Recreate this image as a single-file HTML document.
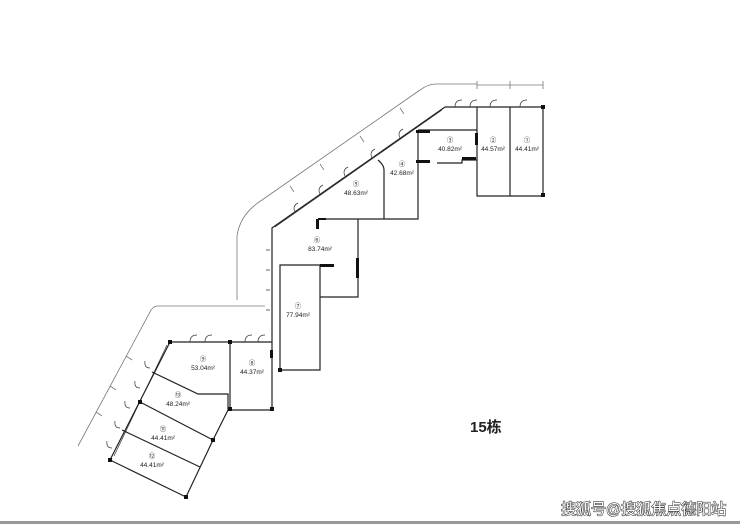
<!DOCTYPE html>
<html><head><meta charset="utf-8"><style>
html,body{margin:0;padding:0;background:#fff;}
svg{display:block;}
text{font-family:"Liberation Sans","Noto Sans CJK SC",sans-serif;}
</style></head><body>
<svg width="740" height="524" viewBox="0 0 740 524" xmlns="http://www.w3.org/2000/svg">
<rect width="740" height="524" fill="#fff"/>
<g stroke="#777" stroke-width="0.8" fill="none">
<path d="M477 84 H436 Q428 84 420 90 L262 200 Q240 214 237 236 V300"/>
<path d="M265 306 H157 Q152 307 150 312 L78 446"/>
<path d="M477 85 H543 M477 81 V89 M510 81 V89 M543 81 V89"/>
<path d="M400 108 l4 6 M360 136 l4 6 M320 164 l4 6 M290 186 l4 6"/>
<path d="M126 356 l6 4 M110 386 l6 4 M96 412 l6 4"/>
</g>
<g stroke="#222" stroke-width="1.2" fill="none">
<path d="M445 107 H543 V196 H477 V107 M510 107 V196"/>
<path d="M445 107 L272 228 V340"/>
<path d="M442 110 L275 227" stroke-width="0.6"/>
<path d="M418 130 H477 M418 130 V219 H318 M437 163 H462 V160 H477"/>
<path d="M384 219 V170 Q384 165 378 160"/>
<path d="M358 219 V297 H320 M320 265 V370 H280 V265 H333"/>
<path d="M170 342 H272 M230 342 V410 H272 V340"/>
<path d="M170 342 L110 460 L186 497 L213 440 L228 410 V394 H198 L152 372"/>
<path d="M167 345 L114 456" stroke-width="0.6"/>
<path d="M140 402 L213 440 M122 430 L200 467"/>
</g>
<g stroke="#333" stroke-width="0.7" fill="none">
<path d="M455 107 q0 -7 7 -7 M470 107 q0 -7 7 -7 M490 107 q0 -7 7 -7 M520 107 q0 -7 7 -7"/>
<path d="M400 138 q-3 -6 3 -9 M372 158 q-3 -6 3 -9 M345 176 q-3 -6 3 -9 M320 194 q-3 -6 3 -9 M295 212 q-3 -6 3 -9"/>
<path d="M190 342 q0 -7 7 -7 M205 342 q0 -7 7 -7 M245 342 q0 -7 7 -7 M258 342 q0 -7 7 -7"/>
<path d="M150 368 q-6 0 -5 -7 M140 388 q-6 0 -5 -7 M130 408 q-6 0 -5 -7 M120 428 q-6 0 -5 -7 M112 448 q-6 0 -5 -7"/>
<path d="M270 250 h-4 M270 270 h-4 M270 290 h-4 M270 310 h-4"/>
</g>
<g fill="#111">
<rect x="416" y="130" width="14" height="3"/><rect x="416" y="160" width="14" height="3"/>
<rect x="541" y="105" width="4" height="4"/><rect x="541" y="193" width="4" height="4"/>
<rect x="475" y="133" width="3" height="12"/><rect x="462" y="157" width="14" height="3"/>
<rect x="316" y="219" width="3" height="10"/><rect x="318" y="218" width="8" height="2"/>
<rect x="320" y="264" width="14" height="3"/><rect x="356" y="258" width="3" height="20"/>
<rect x="168" y="340" width="4" height="4"/><rect x="228" y="340" width="4" height="4"/>
<rect x="228" y="407" width="4" height="4"/><rect x="270" y="407" width="4" height="4"/>
<rect x="138" y="400" width="4" height="4"/><rect x="211" y="438" width="4" height="4"/>
<rect x="184" y="495" width="4" height="4"/><rect x="108" y="458" width="4" height="4"/>
<rect x="270" y="350" width="3" height="8"/><rect x="278" y="368" width="4" height="4"/>
</g>
<g font-size="6.5" fill="#222" text-anchor="middle">
<text x="527" y="142">①</text><text x="527" y="151">44.41m²</text>
<text x="493" y="142">②</text><text x="493" y="151">44.57m²</text>
<text x="450" y="142">③</text><text x="450" y="151">40.82m²</text>
<text x="402" y="166">④</text><text x="402" y="175">42.68m²</text>
<text x="356" y="186">⑤</text><text x="356" y="195">48.63m²</text>
<text x="317" y="242">⑥</text><text x="320" y="251">83.74m²</text>
<text x="298" y="308">⑦</text><text x="298" y="317">77.94m²</text>
<text x="252" y="365">⑧</text><text x="252" y="374">44.37m²</text>
<text x="203" y="361">⑨</text><text x="203" y="370">53.04m²</text>
<text x="178" y="397">⑬</text><text x="178" y="406">48.24m²</text>
<text x="163" y="431">⑪</text><text x="163" y="440">44.41m²</text>
<text x="152" y="458">⑫</text><text x="152" y="467">44.41m²</text>
</g>
<text x="470" y="432" font-size="15" font-weight="bold" fill="#222">15栋</text>
<text x="561" y="514" font-size="15" fill="#fff" stroke="#444" stroke-width="1.2" paint-order="stroke">搜狐号@搜狐焦点德阳站</text>
<rect x="0" y="521" width="740" height="3" fill="#999"/>
</svg>
</body></html>
